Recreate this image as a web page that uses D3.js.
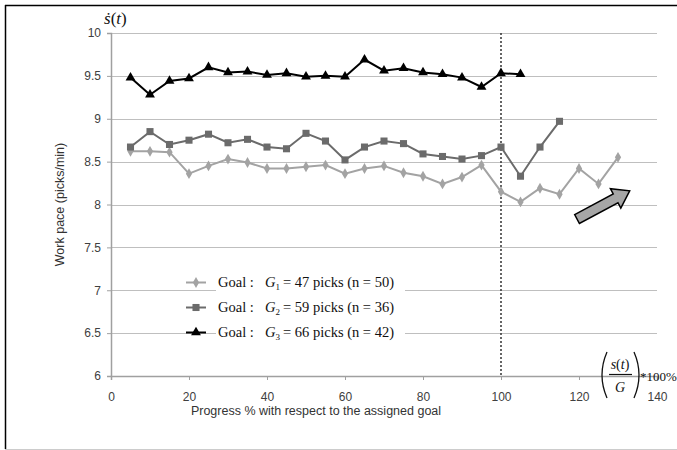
<!DOCTYPE html>
<html>
<head>
<meta charset="utf-8">
<script src="https://cdn.jsdelivr.net/npm/d3@7"></script>
<style>
  body { margin: 0; background: white; }
  svg { display: block; }
  .tick text { font-family: "Liberation Sans", Arial, sans-serif; font-size: 12px; fill: #404040; }
</style>
</head>
<body>
<div class="chart"></div>
<script>
// progress steps (%)
var progress = [5, 10, 15, 20, 25, 30, 35, 40, 45, 50, 55, 60, 65, 70, 75, 80, 85, 90, 95, 100, 105, 110, 115, 120, 125, 130];

var g1 = [8.62, 8.62, 8.61, 8.36, 8.45, 8.53, 8.49, 8.42, 8.42, 8.44, 8.46, 8.36, 8.42, 8.45, 8.37, 8.33, 8.24, 8.32, 8.46, 8.15, 8.03, 8.19, 8.12, 8.42, 8.24, 8.55];
var g2 = [8.67, 8.85, 8.70, 8.75, 8.82, 8.72, 8.76, 8.67, 8.65, 8.83, 8.74, 8.52, 8.67, 8.74, 8.71, 8.59, 8.56, 8.53, 8.57, 8.67, 8.33, 8.67, 8.97];
var g3 = [9.48, 9.28, 9.44, 9.47, 9.60, 9.54, 9.55, 9.51, 9.53, 9.49, 9.50, 9.49, 9.69, 9.56, 9.59, 9.54, 9.52, 9.48, 9.37, 9.53, 9.52];

var xTicks = [0, 20, 40, 60, 80, 100, 120, 140];
var yTicks = [6, 6.5, 7, 7.5, 8, 8.5, 9, 9.5, 10];
var yTickLabels = ['6', '6.5', '7', '7.5', '8', '8.5', '9', '9.5', '10'];

var legendRows = [
  { sub: '1', text: '= 47 picks (n = 50)' },
  { sub: '2', text: '= 59 picks (n = 36)' },
  { sub: '3', text: '= 66 picks (n = 42)' }
];

// arrow annotation, in data units: tail -> tip
var arrowFrom = [119.5, 7.83];
var arrowTo = [133, 8.16];

var W = 677, H = 450;
var x = d3.scaleLinear().domain([0, 140]).range([111, 657]);
var y = d3.scaleLinear().domain([6, 10]).range([376, 33]);

const svg = d3.select('.chart')
  .append('svg')
    .attr('width', W)
    .attr('height', H)
    .style('background', 'white');

// frame
svg.append('line').attr('x1', 5).attr('x2', 677).attr('y1', 5.5).attr('y2', 5.5).attr('stroke', '#000').attr('stroke-width', 1.5);
svg.append('line').attr('x1', 5.5).attr('x2', 5.5).attr('y1', 5).attr('y2', 449).attr('stroke', '#000').attr('stroke-width', 1.5);
svg.append('line').attr('x1', 5).attr('x2', 677).attr('y1', 449.5).attr('y2', 449.5).attr('stroke', '#ccc');

// gridlines
svg.append('g')
  .selectAll('line')
  .data(yTicks.slice(1))
  .enter().append('line')
    .attr('x1', x(0)).attr('x2', x(140))
    .attr('y1', d => Math.round(y(d)) + 0.5).attr('y2', d => Math.round(y(d)) + 0.5)
    .attr('stroke', '#bfbfbf').attr('stroke-width', 1.2);

// axes
var yAxis = svg.append('g')
  .attr('transform', 'translate(' + x(0) + ',0)')
  .call(d3.axisLeft(y).tickValues(yTicks).tickFormat((d, i) => yTickLabels[i]).tickSize(4).tickPadding(6));
var xAxis = svg.append('g')
  .attr('transform', 'translate(0,' + y(6) + ')')
  .call(d3.axisBottom(x).tickValues(xTicks).tickSize(4).tickPadding(12));
[yAxis, xAxis].forEach(a => {
  a.select('.domain').attr('stroke', '#a0a0a0').attr('stroke-width', 1.5);
  a.selectAll('.tick line').attr('stroke', '#a0a0a0');
});

// dotted goal line at 100%
svg.append('line')
  .attr('x1', x(100)).attr('x2', x(100))
  .attr('y1', y(10)).attr('y2', y(6))
  .attr('stroke', '#333').attr('stroke-width', 1.5).attr('stroke-dasharray', '2,2');

var series = [
  { vals: g1, color: '#a3a3a3', symbol: d3.symbolDiamond, size: 34 },
  { vals: g2, color: '#6b6b6b', symbol: d3.symbolSquare, size: 50 },
  { vals: g3, color: '#000000', symbol: d3.symbolTriangle, size: 42 }
];

var line = d3.line().x(d => x(d[0])).y(d => y(d[1]));

series.forEach(s => {
  var pts = s.vals.map((v, i) => [progress[i], v]);
  svg.append('path')
    .datum(pts)
    .attr('d', line)
    .attr('fill', 'none')
    .attr('stroke', s.color)
    .attr('stroke-width', 2);
  svg.append('g')
    .selectAll('path')
    .data(pts)
    .enter().append('path')
      .attr('transform', d => 'translate(' + x(d[0]) + ',' + y(d[1]) + ')')
      .attr('d', d3.symbol().type(s.symbol).size(s.size))
      .attr('fill', s.color);
});

// arrow
var ax0 = x(arrowFrom[0]), ay0 = y(arrowFrom[1]), ax1 = x(arrowTo[0]), ay1 = y(arrowTo[1]);
var ang = Math.atan2(ay1 - ay0, ax1 - ax0);
var len = Math.hypot(ax1 - ax0, ay1 - ay0);
var hw = 5, headW = 11, headL = 16;
var shape = [[0, -hw], [len - headL, -hw], [len - headL, -headW], [len, 0], [len - headL, headW], [len - headL, hw], [0, hw]];
svg.append('path')
  .attr('d', 'M' + shape.map(p => p.join(',')).join('L') + 'Z')
  .attr('transform', 'translate(' + ax0 + ',' + ay0 + ') rotate(' + ang * 180 / Math.PI + ')')
  .attr('fill', '#a6a6a6').attr('stroke', '#000').attr('stroke-width', 1.5).attr('stroke-linejoin', 'miter');

// legend
var legend = svg.append('g');
legend.append('rect').attr('x', 216).attr('y', 270).attr('width', 189).attr('height', 74).attr('fill', 'white');
legendRows.forEach((r, i) => {
  var ly = [283, 308, 333][i];
  var s = series[i];
  legend.append('line').attr('x1', 186).attr('x2', 206).attr('y1', ly - 0.5).attr('y2', ly - 0.5)
    .attr('stroke', s.color).attr('stroke-width', 2);
  legend.append('path').attr('transform', 'translate(196,' + (ly - 0.5) + ')')
    .attr('d', d3.symbol().type(s.symbol).size(s.size)).attr('fill', s.color);
  var t = legend.append('text')
    .attr('x', 218).attr('y', ly + 4)
    .style('font-family', '"Liberation Serif", "Times New Roman", serif')
    .style('font-size', '14.5px').attr('fill', '#111');
  t.append('tspan').text('Goal :');
  t.append('tspan').attr('x', 265).style('font-style', 'italic').text('G');
  t.append('tspan').attr('dy', 3).style('font-size', '9px').text(r.sub);
  t.append('tspan').attr('dy', -3).attr('dx', 3).text(r.text);
});

// axis titles
svg.append('text')
  .attr('transform', 'translate(64,' + y(8) + ') rotate(-90)')
  .attr('text-anchor', 'middle')
  .style('font-family', '"Liberation Sans", Arial, sans-serif').style('font-size', '12.5px')
  .attr('fill', '#333')
  .text('Work pace (picks/min)');

svg.append('text')
  .attr('x', 316).attr('y', 415)
  .attr('text-anchor', 'middle')
  .style('font-family', '"Liberation Sans", Arial, sans-serif').style('font-size', '12.5px')
  .attr('fill', '#333')
  .text('Progress % with respect to the assigned goal');

// s-dot(t) label
var sl = svg.append('text')
  .attr('x', 104).attr('y', 24)
  .style('font-family', '"Liberation Serif", "Times New Roman", serif').style('font-size', '17px')
  .attr('fill', '#111');
sl.append('tspan').style('font-style', 'italic').text('ṡ');
sl.append('tspan').text('(');
sl.append('tspan').style('font-style', 'italic').text('t');
sl.append('tspan').text(')');

// (s(t)/G)*100% formula
var f = svg.append('g').style('font-family', '"Liberation Serif", "Times New Roman", serif').attr('fill', '#111');
f.append('path').attr('d', 'M607,352 Q597,375 607,398').attr('fill', 'none').attr('stroke', '#111').attr('stroke-width', 1.3);
f.append('path').attr('d', 'M634,352 Q644,375 634,398').attr('fill', 'none').attr('stroke', '#111').attr('stroke-width', 1.3);
var num = f.append('text').attr('x', 620).attr('y', 369).attr('text-anchor', 'middle').style('font-size', '14px');
num.append('tspan').style('font-style', 'italic').text('s');
num.append('tspan').text('(');
num.append('tspan').style('font-style', 'italic').text('t');
num.append('tspan').text(')');
f.append('line').attr('x1', 609).attr('x2', 632).attr('y1', 374.5).attr('y2', 374.5).attr('stroke', '#111').attr('stroke-width', 1.2);
f.append('text').attr('x', 620).attr('y', 392).attr('text-anchor', 'middle').style('font-size', '14px').style('font-style', 'italic').text('G');
f.append('text').attr('x', 640).attr('y', 381).style('font-size', '13px').text('*100%');
</script>
</body>
</html>
